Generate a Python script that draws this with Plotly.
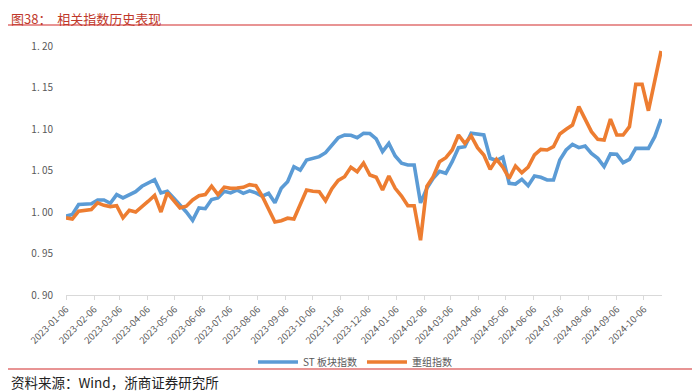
import pandas as pd
import plotly.graph_objects as go

# ---- data (weekly) ----
start_date = "2023-01-06"
n_weeks = 95
dates = pd.date_range(start_date, periods=n_weeks, freq="7D")

st_index = [
    0.995, 0.997, 1.009, 1.009, 1.010, 1.0145, 1.0145, 1.0105, 1.021, 1.017,
    1.021, 1.0245, 1.031, 1.035, 1.039, 1.023, 1.025, 1.017, 1.009, 1.000,
    0.990, 1.005, 1.004, 1.015, 1.017, 1.025, 1.023, 1.0265, 1.0225, 1.0255,
    1.023, 1.019, 1.0225, 1.011, 1.0285, 1.0365, 1.0545, 1.0505, 1.0627, 1.065,
    1.0667, 1.0715, 1.0807, 1.0895, 1.0928, 1.0924, 1.0895, 1.0948, 1.0945, 1.088,
    1.0727, 1.0827, 1.0675, 1.0587, 1.0566, 1.0566, 1.011, 1.0285, 1.0405, 1.049,
    1.0466, 1.0606, 1.0775, 1.0787, 1.0948, 1.094, 1.0928, 1.0647, 1.062, 1.066,
    1.0346, 1.0337, 1.0394, 1.0317, 1.0434, 1.0418, 1.0386, 1.0386, 1.0627, 1.0747,
    1.0815, 1.0775, 1.0795, 1.0707, 1.0647, 1.0546, 1.0699, 1.0695, 1.0594, 1.0635,
    1.0767, 1.0767, 1.0767, 1.0907, 1.112,
]

restructure_index = [
    0.993, 0.9915, 1.001, 1.002, 1.003, 1.011, 1.008, 1.0065, 1.0075, 0.993,
    1.002, 1.000, 1.006, 1.013, 1.020, 1.000, 1.023, 1.014, 1.005, 1.007,
    1.0145, 1.0195, 1.021, 1.031, 1.021, 1.030, 1.0285, 1.029, 1.0297, 1.033,
    1.0317, 1.019, 1.004, 0.988, 0.9895, 0.9925, 0.9915, 1.010, 1.0265, 1.025,
    1.0245, 1.0136, 1.028, 1.038, 1.0425, 1.054, 1.0486, 1.059, 1.0446, 1.0418,
    1.0265, 1.0434, 1.0285, 1.0193, 1.0076, 1.0076, 0.966, 1.031, 1.0425, 1.0606,
    1.0654, 1.0747, 1.0928, 1.0827, 1.0916, 1.0775, 1.0687, 1.0514, 1.0635, 1.054,
    1.0405, 1.0554, 1.0474, 1.054, 1.0687, 1.0755, 1.0747, 1.0787, 1.094, 1.0996,
    1.1048, 1.1269, 1.1117, 1.0968, 1.0876, 1.0867, 1.112, 1.0928, 1.0928, 1.1028,
    1.1538, 1.1538, 1.122, 1.158, 1.194,
]

series_names = ["ST 板块指数", "重组指数"]
y_tickvals = [0.90, 0.95, 1.00, 1.05, 1.10, 1.15, 1.20]
y_ticktext = ["0. 90", "0. 95", "1. 00", "1. 05", "1. 10", "1. 15", "1. 20"]

title_text = "图38：  相关指数历史表现"
source_text = "资料来源：Wind，浙商证券研究所"

# ---- layout geometry (page has an 8px body margin, compensate) ----
OFF = 8
W, H = 700, 392
pw, ph = 596, 249
L = 66 - OFF
T = 46 - OFF
R = W - L - pw
B = H - T - ph

def px(x):
    return (x - OFF - L) / pw

def py(y):
    return (H - B - (y - OFF)) / ph

CJK = "Noto Sans CJK SC"
red = "#C0392B"
line_red = "#E07070"

fig = go.Figure()
fig.add_trace(go.Scatter(x=dates, y=st_index, mode="lines", name=series_names[0],
                         line=dict(color="#5B9BD5", width=3.6)))
fig.add_trace(go.Scatter(x=dates, y=restructure_index, mode="lines", name=series_names[1],
                         line=dict(color="#ED7D31", width=3.6)))

fig.update_layout(
    width=W, height=H,
    margin=dict(l=L, r=R, t=T, b=B, pad=0),
    paper_bgcolor="white", plot_bgcolor="white",
    font=dict(family=CJK, color="#595959", size=10),
    showlegend=True,
    legend=dict(orientation="h", x=px(355), xanchor="center", y=py(362), yanchor="middle",
                font=dict(family=CJK, size=10, color="#595959"),
                itemwidth=40, tracegroupgap=0, bgcolor="rgba(0,0,0,0)"),
    xaxis=dict(
        type="date",
        range=["2023-01-06", "2024-10-26"],
        tick0="2023-01-06", dtick="M1", tickformat="%Y-%m-%d",
        tickangle=-45, tickfont=dict(size=9.5, color="#595959", family=CJK),
        showgrid=False, zeroline=False,
        showline=True, linecolor="#D9D9D9", linewidth=1,
        ticks="outside", ticklen=4, tickcolor="#D9D9D9",
    ),
    yaxis=dict(
        range=[0.90, 1.20], tickvals=y_tickvals, ticktext=y_ticktext,
        tickfont=dict(size=10, color="#595959", family=CJK),
        showgrid=False, zeroline=False, showline=False, ticks="",
        ticklabelstandoff=12,
    ),
)

fig.add_annotation(text=title_text, xref="paper", yref="paper",
                   x=px(10), y=py(8), xanchor="left", yanchor="top",
                   showarrow=False, borderpad=0,
                   font=dict(family=CJK, size=13, color=red))
fig.add_annotation(text=source_text, xref="paper", yref="paper",
                   x=px(10), y=py(382), xanchor="left", yanchor="middle",
                   showarrow=False, borderpad=0,
                   font=dict(family=CJK, size=13.5, color="#222222"))

for yy in (25, 369):
    fig.add_shape(type="line", xref="paper", yref="paper",
                  x0=px(8), x1=px(692), y0=py(yy), y1=py(yy),
                  line=dict(color=line_red, width=1.3))

fig.write_html("out.html")
